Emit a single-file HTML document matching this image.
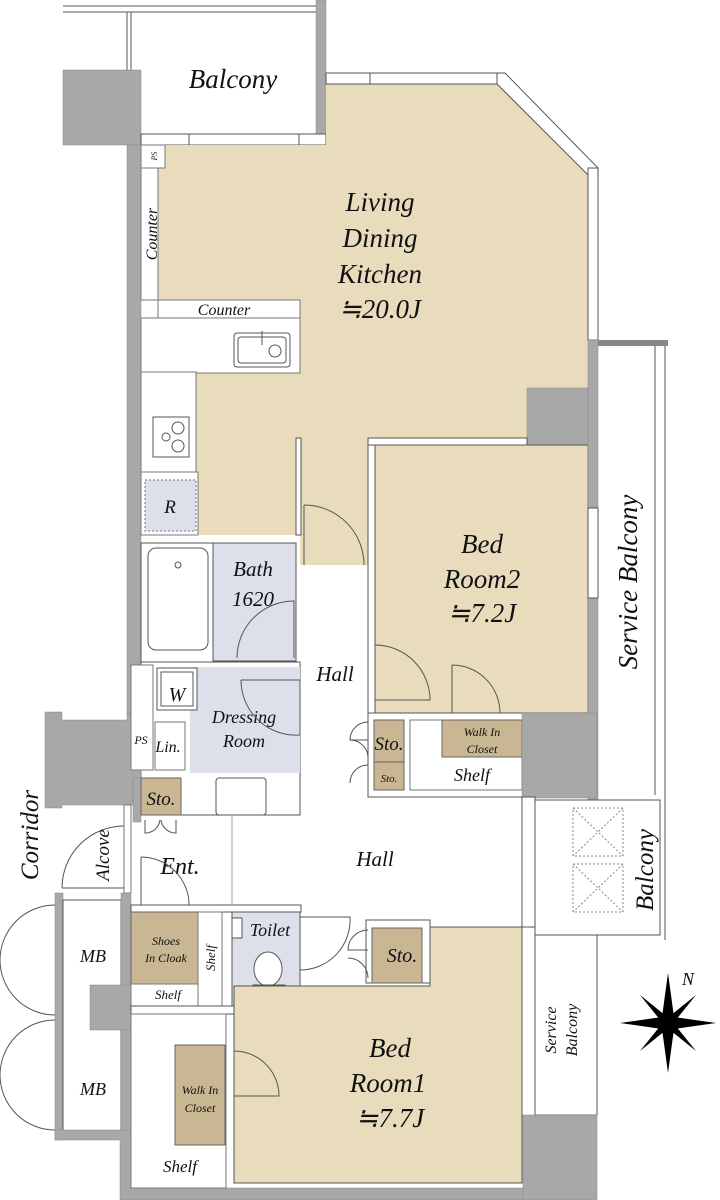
<!DOCTYPE html>
<html><head><meta charset="utf-8"><style>
html,body{margin:0;padding:0;background:#fff;}
svg{display:block;}
text{font-family:"Liberation Serif",serif;font-style:italic;fill:#111;}
</style></head><body>
<svg width="720" height="1200" viewBox="0 0 720 1200" xmlns="http://www.w3.org/2000/svg">
<defs><style>.w{fill:#a8a8a8;stroke:#8a8a8a;stroke-width:.5}.l{fill:none;stroke:#555;stroke-width:1}.b{fill:#e8dcbc}.s{fill:#c9b794;stroke:#666;stroke-width:1}.u{fill:#dde0ea}</style></defs>

<!-- top balcony -->
<line x1="63" y1="12" x2="316" y2="12" class="l"/>
<line x1="63" y1="6" x2="316" y2="6" class="l"/>
<line x1="127" y1="12" x2="127" y2="70" class="l"/>
<line x1="131" y1="12" x2="131" y2="70" class="l"/>
<rect x="316" y="0" width="10" height="145" class="w"/>
<rect x="63" y="70" width="78" height="75" class="w"/>
<rect x="141" y="134" width="185" height="11" fill="#fff" stroke="#555"/>
<rect x="189" y="134" width="110" height="11" fill="#fff" stroke="#555"/>
<text x="233" y="88" font-size="27" text-anchor="middle">Balcony</text>

<!-- LDK beige -->
<polygon class="b" points="158,168 165,168 165,145 326,145 326,84 497,84 588,175 588,388 527,388 527,438 368,438 368,565 300,565 300,535 196,535 196,372 300,372 300,318 158,318"/>
<rect x="326" y="73" width="172" height="11" fill="#fff" stroke="#555"/>
<polygon points="497,73 505,73 598,168 588,175 497,84" fill="#fff" stroke="#555"/>
<rect x="588" y="168" width="10" height="172" fill="#fff" stroke="#555"/>
<line x1="370" y1="73" x2="370" y2="84" class="l"/>
<rect x="127" y="145" width="14" height="568" class="w"/>
<rect x="141" y="145" width="24" height="23" fill="#fff" stroke="#777"/>
<text x="153" y="160" font-size="8" transform="rotate(-90 153 156)" text-anchor="middle">PS</text>
<rect x="141" y="168" width="17" height="132" fill="#fff" stroke="#777"/>
<text x="157" y="234" font-size="16" transform="rotate(-90 157 234)" text-anchor="middle">Counter</text>
<rect x="158" y="300" width="142" height="18" fill="#fff" stroke="#777"/>
<text x="224" y="315" font-size="16" text-anchor="middle">Counter</text>
<rect x="141" y="318" width="159" height="55" fill="#fff" stroke="#777"/>
<rect x="141" y="372" width="55" height="100" fill="#fff" stroke="#777"/>
<rect x="234" y="333" width="56" height="34" rx="3" fill="#fff" stroke="#555"/>
<rect x="238" y="337" width="48" height="26" rx="3" fill="none" stroke="#555"/>
<circle cx="275" cy="351" r="6" fill="none" stroke="#555"/>
<line x1="262" y1="331" x2="262" y2="345" class="l"/>
<rect x="153" y="417" width="36" height="40" fill="#fff" stroke="#555"/>
<circle cx="178" cy="428" r="6" fill="none" stroke="#555"/><circle cx="178" cy="446" r="6" fill="none" stroke="#555"/><circle cx="166" cy="437" r="4" fill="none" stroke="#555"/>
<rect x="141" y="472" width="57" height="63" fill="#fff" stroke="#777"/>
<rect x="145" y="480" width="51" height="51" class="u" stroke="#777" stroke-dasharray="2,2"/>
<text x="170" y="513" font-size="19" text-anchor="middle">R</text>
<text x="380" y="211" font-size="27" text-anchor="middle">Living</text>
<text x="380" y="247" font-size="27" text-anchor="middle">Dining</text>
<text x="380" y="283" font-size="27" text-anchor="middle">Kitchen</text>
<text x="380" y="318" font-size="27" text-anchor="middle">≒20.0J</text>
<rect x="296" y="438" width="5" height="97" fill="#fff" stroke="#555"/>
<path d="M304,505 A60,60 0 0 1 364,565" class="l"/>
<line x1="304" y1="505" x2="304" y2="565" class="l"/>

<rect x="527" y="388" width="61" height="72" class="w"/>
<rect x="368" y="438" width="159" height="7" fill="#fff" stroke="#555"/>
<rect x="368" y="445" width="7" height="350" fill="#fff" stroke="#555"/>
<rect x="375" y="445" width="213" height="268" class="b" stroke="#555"/>
<rect x="588" y="340" width="10" height="460" class="w"/>
<rect x="588" y="508" width="10" height="90" fill="#fff" stroke="#555"/>
<text x="482" y="553" font-size="27" text-anchor="middle">Bed</text>
<text x="482" y="588" font-size="27" text-anchor="middle">Room2</text>
<text x="482" y="622" font-size="27" text-anchor="middle">≒7.2J</text>
<path d="M375,645 A55,55 0 0 1 430,700 L375,700" class="l"/>
<path d="M452,665 A48,48 0 0 1 500,713 M452,665 L452,713" class="l"/>

<rect x="598" y="340" width="70" height="6" fill="#888"/>
<line x1="655" y1="346" x2="655" y2="795" class="l"/>
<line x1="665" y1="346" x2="665" y2="940" class="l"/>
<text x="637" y="582" font-size="27" transform="rotate(-90 637 582)" text-anchor="middle">Service Balcony</text>

<rect x="368" y="713" width="155" height="84" fill="#fff" stroke="#555"/>
<rect x="374" y="720" width="30" height="42" class="s"/>
<rect x="374" y="762" width="30" height="28" class="s"/>
<text x="389" y="750" font-size="19" text-anchor="middle">Sto.</text>
<text x="389" y="782" font-size="11" text-anchor="middle">Sto.</text>
<rect x="410" y="720" width="112" height="70" fill="#fff" stroke="#777"/>
<rect x="442" y="720" width="80" height="37" class="s"/>
<text x="482" y="736" font-size="12" text-anchor="middle">Walk In</text>
<text x="482" y="753" font-size="12" text-anchor="middle">Closet</text>
<text x="472" y="781" font-size="18" text-anchor="middle">Shelf</text>
<path d="M368,722 A18,18 0 0 0 350,740 L368,740 M368,758 A18,18 0 0 0 350,740 M368,765 A18,18 0 0 0 350,783" class="l"/>
<rect x="522" y="713" width="75" height="85" class="w"/>

<rect x="141" y="543" width="155" height="119" fill="#fff" stroke="#555"/>
<rect x="148" y="548" width="60" height="102" rx="8" fill="#fff" stroke="#555"/>
<circle cx="178" cy="565" r="3" fill="none" stroke="#555"/>
<rect x="213" y="543" width="83" height="118" class="u" stroke="#555"/>
<text x="253" y="576" font-size="21" text-anchor="middle">Bath</text>
<text x="253" y="606" font-size="21" text-anchor="middle">1620</text>
<path d="M237,658 A57,57 0 0 1 294,601 L294,658" class="l"/>
<rect x="141" y="662" width="159" height="153" fill="#fff" stroke="#555"/>
<rect x="190" y="667" width="110" height="106" class="u"/>
<rect x="157" y="668" width="40" height="42" fill="#fff" stroke="#555"/>
<rect x="161" y="672" width="32" height="34" fill="none" stroke="#555"/>
<text x="177" y="701" font-size="20" text-anchor="middle">W</text>

<!-- corridor wall -->
<polygon class="w" points="45,712 62,712 62,720 127,720 127,713 141,713 141,778 133,778 133,805 62,805 62,808 45,808"/>
<rect x="131" y="665" width="22" height="105" fill="#fff" stroke="#777"/>
<text x="141" y="744" font-size="12" text-anchor="middle">PS</text>
<rect x="155" y="722" width="30" height="48" fill="#fff" stroke="#777"/>
<text x="168" y="752" font-size="16" text-anchor="middle">Lin.</text>
<text x="244" y="723" font-size="18" text-anchor="middle">Dressing</text>
<text x="244" y="747" font-size="18" text-anchor="middle">Room</text>
<path d="M241,680 L300,680 L300,735 A55,55 0 0 1 241,680" class="l"/>
<rect x="216" y="778" width="50" height="37" rx="3" fill="#fff" stroke="#555"/>
<text x="335" y="681" font-size="21" text-anchor="middle">Hall</text>

<rect x="124" y="805" width="7" height="88" fill="#fff" stroke="#777"/>
<rect x="133" y="778" width="8" height="44" class="w"/>
<rect x="141" y="778" width="40" height="37" class="s"/>
<text x="161" y="805" font-size="19" text-anchor="middle">Sto.</text>
<path d="M145,820 L145,833 A15,15 0 0 0 160,820 M176,820 L176,833 A15,15 0 0 1 161,820" class="l"/>
<text x="38" y="835" font-size="25" transform="rotate(-90 38 835)" text-anchor="middle">Corridor</text>
<path d="M62,888 A62,62 0 0 1 124,826" class="l"/>
<line x1="62" y1="888" x2="124" y2="888" class="l"/>
<text x="109" y="855" font-size="19" transform="rotate(-90 109 855)" text-anchor="middle">Alcove</text>
<text x="180" y="874" font-size="24" text-anchor="middle">Ent.</text>
<path d="M141,857 L141,905 M141,857 A48,48 0 0 1 189,905" class="l"/>
<line x1="232" y1="815" x2="232" y2="905" stroke="#aaa"/>
<text x="375" y="866" font-size="21" text-anchor="middle">Hall</text>

<rect x="522" y="797" width="13" height="140" fill="#fff" stroke="#555"/>
<rect x="535" y="800" width="125" height="135" fill="#fff" stroke="#555"/>
<g stroke="#888" fill="none" stroke-dasharray="2,2">
<rect x="573" y="808" width="50" height="48"/><path d="M573,808 L623,856 M623,808 L573,856"/>
<rect x="573" y="864" width="50" height="48"/><path d="M573,864 L623,912 M623,864 L573,912"/>
</g>
<text x="653" y="870" font-size="25" transform="rotate(-90 653 870)" text-anchor="middle">Balcony</text>

<rect x="55" y="893" width="8" height="247" class="w"/>
<rect x="63" y="900" width="58" height="233" fill="#fff" stroke="#555"/>
<rect x="121" y="893" width="10" height="247" class="w"/>
<rect x="90" y="985" width="41" height="45" class="w"/>
<text x="93" y="962" font-size="18" text-anchor="middle">MB</text>
<text x="93" y="1095" font-size="18" text-anchor="middle">MB</text>
<path d="M55,905 A55,55 0 0 0 0,960 M55,1015 A55,55 0 0 1 0,960 M55,1020 A55,55 0 0 0 0,1075 M55,1130 A55,55 0 0 1 0,1075" class="l"/>
<polygon class="w" points="55,1130 131,1130 131,1188 535,1188 535,1200 120,1200 120,1140 55,1140"/>

<rect x="131" y="905" width="170" height="7" fill="#fff" stroke="#555"/>
<rect x="131" y="912" width="67" height="72" class="s"/>
<text x="166" y="945" font-size="12" text-anchor="middle">Shoes</text>
<text x="166" y="962" font-size="12" text-anchor="middle">In Cloak</text>
<rect x="131" y="984" width="67" height="22" fill="#fff" stroke="#777"/>
<text x="168" y="999" font-size="13" text-anchor="middle">Shelf</text>
<rect x="198" y="912" width="24" height="94" fill="#fff" stroke="#777"/>
<text x="215" y="958" font-size="13" transform="rotate(-90 215 958)" text-anchor="middle">Shelf</text>
<rect x="232" y="912" width="68" height="94" class="u" stroke="#555"/>
<text x="270" y="936" font-size="18" text-anchor="middle">Toilet</text>
<ellipse cx="268" cy="969" rx="14" ry="17" fill="#fff" stroke="#555"/>
<rect x="253" y="985" width="32" height="20" fill="#fff" stroke="#555"/>
<rect x="232" y="918" width="10" height="20" fill="#fff" stroke="#555"/>
<path d="M300,917 L350,917 A50,50 0 0 1 300,970" class="l"/>
<rect x="131" y="1006" width="170" height="8" fill="#fff" stroke="#555"/>

<polygon class="b" stroke="#555" points="234,986 430,986 430,927 522,927 522,1183 234,1183"/>
<rect x="366" y="920" width="64" height="63" fill="#fff" stroke="#555"/>
<rect x="372" y="928" width="50" height="55" class="s"/>
<text x="402" y="962" font-size="20" text-anchor="middle">Sto.</text>
<path d="M368,930 A20,20 0 0 0 348,950 L368,950 M368,978 A20,20 0 0 0 348,958" class="l"/>
<rect x="522" y="927" width="13" height="190" fill="#fff" stroke="#555"/>
<rect x="535" y="935" width="62" height="180" fill="#fff" stroke="#555"/>
<text x="556" y="1030" font-size="16" transform="rotate(-90 556 1030)" text-anchor="middle">Service</text>
<text x="577" y="1030" font-size="16" transform="rotate(-90 577 1030)" text-anchor="middle">Balcony</text>
<rect x="523" y="1115" width="74" height="85" class="w"/>
<text x="390" y="1057" font-size="27" text-anchor="middle">Bed</text>
<text x="388" y="1092" font-size="27" text-anchor="middle">Room1</text>
<text x="390" y="1127" font-size="27" text-anchor="middle">≒7.7J</text>
<rect x="175" y="1045" width="50" height="100" class="s"/>
<text x="200" y="1094" font-size="12" text-anchor="middle">Walk In</text>
<text x="200" y="1112" font-size="12" text-anchor="middle">Closet</text>
<path d="M234,1051 A45,45 0 0 1 279,1096 L234,1096" class="l"/>
<text x="180" y="1172" font-size="17" text-anchor="middle">Shelf</text>
<rect x="131" y="1014" width="95" height="174" fill="none" stroke="#777"/>

<g transform="translate(668,1023)">
<polygon points="0,-50 6,-6 0,0 -6,-6" fill="#000"/>
<polygon points="0,50 6,6 0,0 -6,6" fill="#000"/>
<polygon points="-48,0 -6,-6 0,0 -6,6" fill="#000"/>
<polygon points="48,0 6,-6 0,0 6,6" fill="#000"/>
<polygon points="-28,-28 3,-3 -3,3" fill="#000"/><polygon points="28,28 3,-3 -3,3" fill="#000"/>
<polygon points="28,-28 3,3 -3,-3" fill="#000"/><polygon points="-28,28 3,3 -3,-3" fill="#000"/>
<text x="14" y="-38" font-size="18">N</text>
</g>
</svg>
</body></html>
